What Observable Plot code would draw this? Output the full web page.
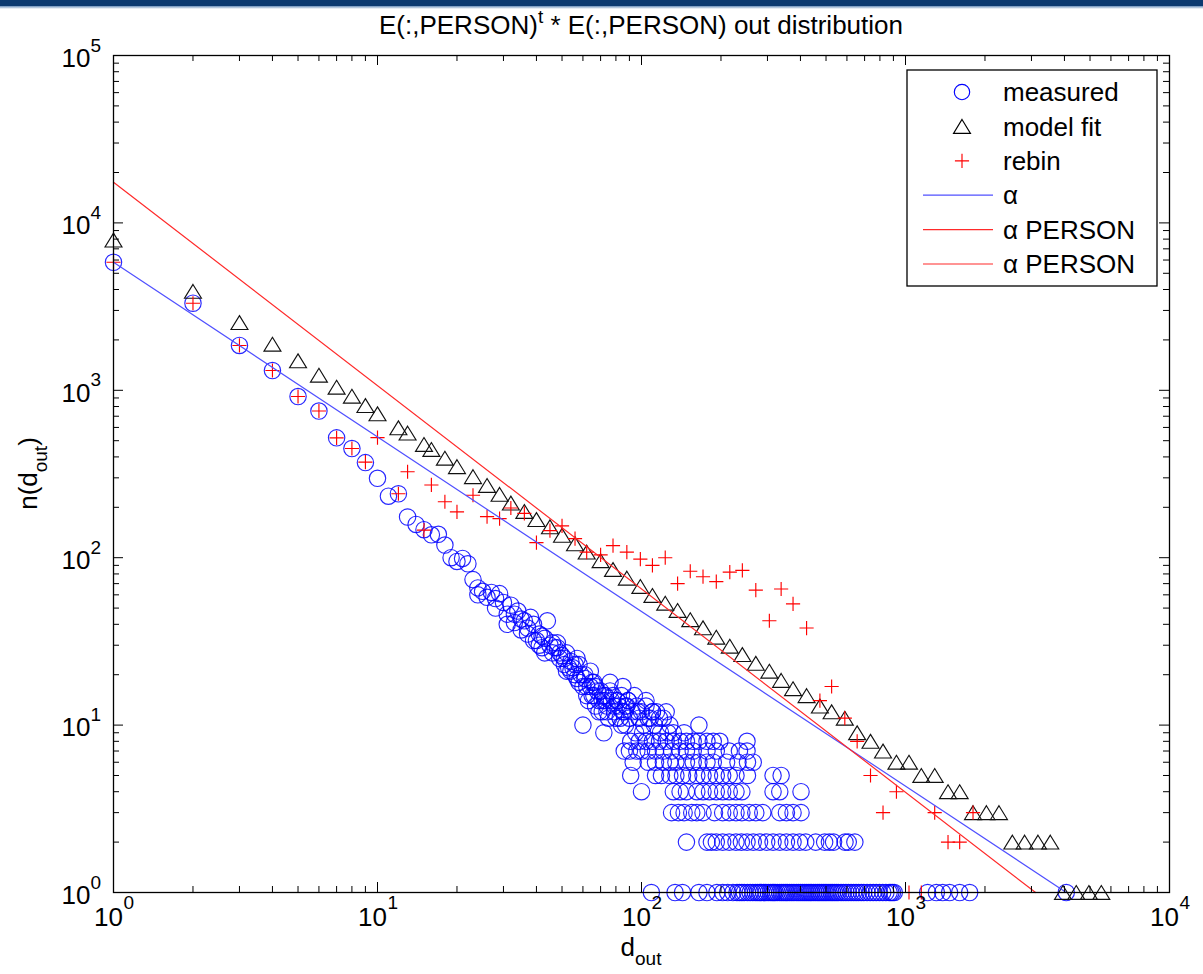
<!DOCTYPE html>
<html>
<head>
<meta charset="utf-8">
<script src="https://cdn.jsdelivr.net/npm/d3@7"></script>
<script src="https://cdn.jsdelivr.net/npm/@observablehq/plot@0.6"></script>
<style>
  body { margin: 0; background: #fff; }
  #fig { position: relative; width: 1203px; height: 974px; overflow: hidden; background: #fff; }
  .bar { position: absolute; left: 0; top: 0; width: 1203px; height: 6px; background: #0c3a70; }
  .bar2 { position: absolute; left: 0; top: 6px; width: 1203px; height: 3px; background: linear-gradient(#6a8fba, #ffffff); }
  #chart { position: absolute; left: 0; top: 0; }
</style>
</head>
<body>
<div id="fig">
  <div id="chart"></div>
  <div class="bar"></div>
  <div class="bar2"></div>
</div>
<script>
// ---- measured out-degree distribution: degree -> count (upper band) ----
const bandDeg = [1,2,3,4,5,6,7,8,9,10,11,12,13,14,15,16,17,18,19,20,21,22,23,24,25,26,27,28,29,30,
  31,32,33,34,35,36,37,38,39,40,41,42,43,44,45,46,47,48,49,50,51,52,53,54,55,56,57,58,59,60,
  61,62,63,64,65,66,67,68,69,70,71,72,73,74,75,76,77,78,79,80,81,82,83,85,86,88,89,90,94,96,98,100,104,106,108,110,114,121,124];
const bandN = [5820,3312,1853,1313,918,752,520,449,370,298,233,241,175,158,147,137,138,119,100,95,99,92,74,66,63,58,62,57,61,54,
  40,52,46,48,43,42,38,44,32,32,35,29,33,42,30,27,29,29,25,26,23,27,22,24,22,20,25,23,20,17,
  19,17,14,21,15,18,13,16,14,16,12,15,15,13,11,18,14,15,12,11,14,13,11,17,12,13,14,11,15,13,11,12,14,11,11,12,12,11,12];
const extraDeg = [24,28,31,33,35,37,39,41,42,43,46,48,49,51,52,54,56,57,58,61,62,64,65,66,67,69,71,73,74,76,79,81,84,85,87,89,92,97,104,110,117];
const extraN = [60,50,46,41,37,35,40,30,34,27,31,31,27,25,21,21,23,19,18,20,15,17,18,15,17,12,14,14,12,16,13,14,15,12,13,14,12,12,13,12,11];

// ---- measured: degrees observed with small counts ----
const count10 = [60,84,87,102,112,128,165];
const count9 = [72,95,101,118,126,132,145];
const count8 = [91,98,104,110,117,124,132,140,148,157,165,177,187,198,251];
const count7 = [86,90,96,100,106,113,121,130,140,148,157,177,192,215,235,251];
const count6 = [93,106,113,121,128,135,148,157,165,177,187,210,232,252,265];
const count5 = [91,113,119,128,135,143,151,162,171,181,192,203,215,228,252,315,338];
const count4 = [100,132,140,148,162,171,181,192,203,215,228,240,315,334,402];
const count3 = [130,138,145,155,162,171,189,203,215,228,240,256,271,288,334,354,375,402];
const count2 = [148,177,184,192,203,215,228,239,251,265,280,298,315,334,354,375,397,419,457,494,515,534,590,607,643];
const count1 = [109,134,143,165,177,193,203,212,222,230,235,240,245,252,258,264,270,275,280,284,290,296,302,308,313,317,321,327,334,340,
  346,352,357,364,371,378,386,393,400,407,414,421,428,435,441,449,457,465,472,480,488,496,504,513,522,530,539,548,557,570,
  582,595,608,622,636,650,664,680,695,715,735,755,775,797,820,843,867,880,893,907,1213,1309,1383,1469,1604,1750,4064];

// ---- model fit (log-binned degrees) ----
const fitDeg = [1,2,3,4,5,6,7,8,9,10,12,13,15,16,18,20,23,26,29,32,36,40,45,50,56,62,70,78,88,99,110,123,137,153,171,192,
  216,241,271,305,338,375,422,474,525,589,656,737,822,924,1031,1148,1290,1449,1604,1802,2025,2260,2540,2826,3175,3535,3950,4434,4952,5517];
const fitN = [7900,3900,2540,1885,1500,1230,1044,922,811,724,597,555,475,443,393,350,305,270,239,212,189,169,153,136,121,108,96,85,75.5,67.3,59.5,53.5,48.4,42.6,38.1,33.5,
  29.6,26.4,23.4,21,18.5,16.5,15,13,12,11,9,8,7,6,6,5,5,4,4,3,3,3,2,2,2,2,1,1,1,1];

// ---- rebinned measurement ----
const rebinDeg = [1,2,3,4,5,6,7,8,9,10,12,13,15,16,18,20,23,26,29,32,36,40,45,50,56,62,70,78,88,99,110,123,137,153,171,192,
  216,241,271,305,338,375,422,474,525,589,656,737,822,924,1031,1148,1290,1449,1604,1802];
const rebinN = [5820,3312,1853,1313,918,752,520,449,372,522,241,326,146,272,216,188,236,176,171,198,184,123,145,155,130,108,104,118,108,98,90,100,70,83,77,72,
  82,84,64,42,65,53,38,14,17,11,8,5,3,4,1,1,3,2,2,3];

// ---- power-law fits (end points) ----
const alphaDeg = [1, 4064];
const alphaN = [5820, 1];
const personDeg = [1, 3110];
const personN = [17500, 1];

// ---- axis ticks ----
const xMajor = [1, 10, 100, 1000, 10000];
const yMajor = [1, 10, 100, 1000, 10000, 100000];
const xMinor = xMajor.slice(0, -1).flatMap(p => d3.range(2, 10).map(k => k * p));
const yMinor = yMajor.slice(0, -1).flatMap(p => d3.range(2, 10).map(k => k * p));

// ---- legend ----
const legendLabels = ["measured", "model fit", "rebin", "\u03b1", "\u03b1 PERSON", "\u03b1 PERSON"];
const legendKinds = ["circle", "triangle", "plus", "line", "line", "line"];
const legendColors = ["#0000ff", "#000000", "#ff0000", "#5050ff", "#ff2a2a", "#ff2a2a"];

// ---- build tables ----
const measured = bandDeg.map((d, i) => ({d, n: bandN[i]}));
extraDeg.forEach((d, i) => measured.push({d, n: extraN[i]}));
[[count10, 10], [count9, 9], [count8, 8], [count7, 7], [count6, 6], [count5, 5], [count4, 4], [count3, 3], [count2, 2], [count1, 1]]
  .forEach(([degs, n]) => degs.forEach(d => measured.push({d, n})));
const fit = fitDeg.map((d, i) => ({d, n: fitN[i]}));
const rebin = rebinDeg.map((d, i) => ({d, n: rebinN[i]}));
const alphaLine = alphaDeg.map((d, i) => ({d, n: alphaN[i]}));
const personLine = personDeg.map((d, i) => ({d, n: personN[i]}));

// marker shapes in the style of the plotting package
const triangleSym = {
  draw(ctx, size) {
    const r = Math.sqrt(size / Math.PI);
    const w = r * 2.2, h = r * 1.8;
    ctx.moveTo(0, -h / 2); ctx.lineTo(w / 2, h / 2); ctx.lineTo(-w / 2, h / 2); ctx.closePath();
  }
};
const plusSym = {
  draw(ctx, size) {
    const a = Math.sqrt(size / Math.PI) * 0.92;
    ctx.moveTo(-a, 0); ctx.lineTo(a, 0); ctx.moveTo(0, -a); ctx.lineTo(0, a);
  }
};

const W = 1203, H = 974;
const mL = 113, mR = 34, mT = 55, mB = 82;
const innerW = W - mL - mR, innerH = H - mT - mB;
const FONT = "'Liberation Sans', Arial, Helvetica, sans-serif";

const chart = Plot.plot({
  width: W, height: H,
  marginLeft: mL, marginRight: mR, marginTop: mT, marginBottom: mB,
  x: {type: "log", domain: [1, 1e4], axis: null},
  y: {type: "log", domain: [1, 1e5], axis: null},
  style: {fontFamily: FONT, background: "transparent", overflow: "visible", color: "black"},
  marks: [
    Plot.dot(measured, {x: "d", y: "n", r: 8.2, fill: "none", stroke: "#0000ff", strokeWidth: 1.15, strokeOpacity: 0.85}),
    Plot.dot(fit, {x: "d", y: "n", r: 7.7, symbol: triangleSym, fill: "none", stroke: "#111", strokeWidth: 1.15}),
    Plot.dot(rebin, {x: "d", y: "n", r: 7.7, symbol: plusSym, fill: "none", stroke: "#ff0000", strokeWidth: 1.15}),
    Plot.line(alphaLine, {x: "d", y: "n", stroke: "#5050ff", strokeWidth: 1.2}),
    Plot.line(personLine, {x: "d", y: "n", stroke: "#ff2a2a", strokeWidth: 1.2}),
    Plot.frame({stroke: "black", strokeWidth: 1.3}),
    // inward ticks on all four sides
    Plot.tickX(xMajor, {x: d => d, insetTop: innerH - 10, stroke: "black"}),
    Plot.tickX(xMinor, {x: d => d, insetTop: innerH - 6, stroke: "black"}),
    Plot.tickX(xMajor, {x: d => d, insetBottom: innerH - 10, stroke: "black"}),
    Plot.tickX(xMinor, {x: d => d, insetBottom: innerH - 6, stroke: "black"}),
    Plot.tickY(yMajor, {y: d => d, insetRight: innerW - 10, stroke: "black"}),
    Plot.tickY(yMinor, {y: d => d, insetRight: innerW - 6, stroke: "black"}),
    Plot.tickY(yMajor, {y: d => d, insetLeft: innerW - 10, stroke: "black"}),
    Plot.tickY(yMinor, {y: d => d, insetLeft: innerW - 6, stroke: "black"}),
    // tick labels: base and exponent
    Plot.text(xMajor, {x: d => d, frameAnchor: "bottom", text: () => "10", dx: -5, dy: 25, fontSize: 26, textAnchor: "middle", lineAnchor: "middle", fill: "black"}),
    Plot.text(xMajor, {x: d => d, frameAnchor: "bottom", text: d => String(Math.round(Math.log10(d))), dx: 10, dy: 10, fontSize: 19, textAnchor: "start", lineAnchor: "middle", fill: "black"}),
    Plot.text(yMajor, {y: d => d, frameAnchor: "left", text: () => "10", dx: -23, dy: 3, fontSize: 26, textAnchor: "end", lineAnchor: "middle", fill: "black"}),
    Plot.text(yMajor, {y: d => d, frameAnchor: "left", text: d => String(Math.round(Math.log10(d))), dx: -23, dy: -10, fontSize: 19, textAnchor: "start", lineAnchor: "middle", fill: "black"})
  ]
});
document.getElementById("chart").appendChild(chart);

// titles and legend, written into the same SVG
const svg = d3.select(chart);
const txt = svg.append("g").attr("font-family", FONT).attr("fill", "black");

const title = txt.append("text").attr("x", mL + innerW / 2).attr("y", 34).attr("text-anchor", "middle").attr("font-size", 26);
title.append("tspan").text("E(:,PERSON)");
title.append("tspan").attr("dy", -11).attr("font-size", 19).text("t");
title.append("tspan").attr("dy", 11).text(" * E(:,PERSON) out distribution");

const xl = txt.append("text").attr("x", mL + innerW / 2).attr("y", 956).attr("text-anchor", "middle").attr("font-size", 26);
xl.append("tspan").text("d");
xl.append("tspan").attr("dy", 9).attr("font-size", 19).text("out");

const yl = txt.append("text").attr("transform", `translate(37,${mT + innerH / 2}) rotate(-90)`).attr("text-anchor", "middle").attr("font-size", 26);
yl.append("tspan").text("n(d");
yl.append("tspan").attr("dy", 10).attr("font-size", 19).text("out");
yl.append("tspan").attr("dy", -10).text(")");

const lg = svg.append("g").attr("font-family", FONT);
const box = {x: 907, y: 70, w: 250, h: 216};
lg.append("rect").attr("x", box.x).attr("y", box.y).attr("width", box.w).attr("height", box.h)
  .attr("fill", "white").attr("stroke", "black").attr("stroke-width", 1.3);
const symPath = {circle: d3.symbolCircle, triangle: triangleSym, plus: plusSym};
const rowStep = (box.h - 2 * 22) / (legendLabels.length - 1);
legendLabels.forEach((label, i) => {
  const cy = box.y + 22 + i * rowStep;
  const kind = legendKinds[i], color = legendColors[i];
  if (kind === "line") {
    lg.append("line").attr("x1", 923).attr("x2", 993).attr("y1", cy).attr("y2", cy)
      .attr("stroke", color).attr("stroke-width", 1.2);
  } else {
    lg.append("path").attr("transform", `translate(962,${cy})`)
      .attr("d", d3.symbol(symPath[kind], Math.PI * 7.7 * 7.7)())
      .attr("fill", "none").attr("stroke", color).attr("stroke-width", 1.15);
  }
  lg.append("text").attr("x", 1003).attr("y", cy).attr("dy", "0.35em").attr("text-anchor", "start")
    .attr("font-size", 26).attr("fill", "black").text(label);
});
</script>
</body>
</html>
